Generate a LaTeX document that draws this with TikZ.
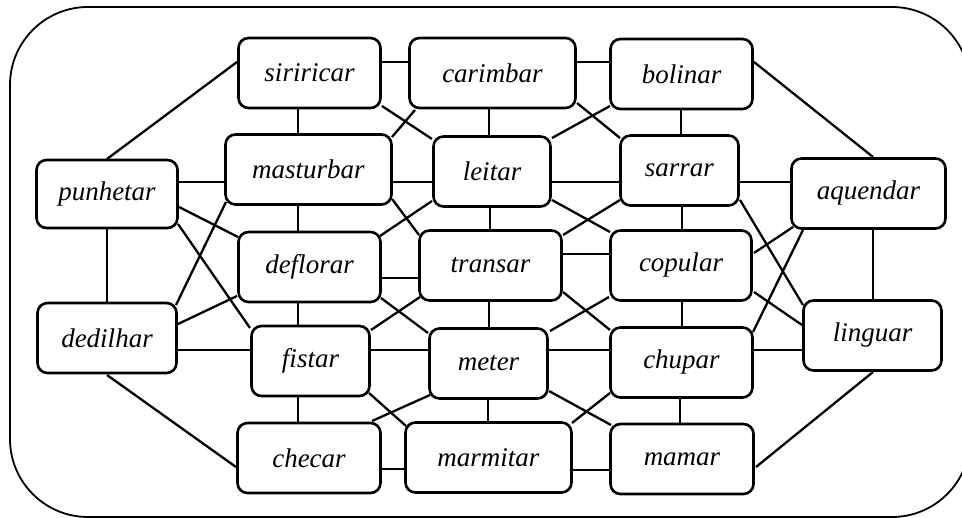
\documentclass[tikz,border=0pt]{standalone}
\usepackage{fontspec}
\setmainfont{Liberation Serif}
\usetikzlibrary{calc}
\pgfdeclarelayer{bg}
\pgfsetlayers{bg,main}
\tikzset{
  word/.style={draw, line width=2.6pt, rounded corners=10pt, fill=white,
    minimum height=70pt, inner sep=0pt, font=\fontsize{27}{31}\selectfont\itshape},
  link/.style={line width=2.3pt},
  frame/.style={line width=1.8pt, rounded corners=78pt}
}
\newcommand\conn[6]{\draw[link] ($(#1)+(#2,#3)$) -- ($(#4)+(#5,#6)$);}
\begin{document}
\begin{tikzpicture}[x=1pt,y=-1pt]
\useasboundingbox (0,0) rectangle (962,518);
\begin{scope}
\clip (0,0) rectangle (962,518);
\draw[frame] (10,7) rectangle (970,517);
\end{scope}
% nodes
\node[word, minimum width=142pt] (S1) at (309.5,73) {siriricar};
\node[word, minimum width=166pt] (C1) at (492.5,73) {carimbar};
\node[word, minimum width=142pt] (B1) at (681.5,74) {bolinar};
\node[word, minimum width=141pt, minimum height=68pt] (P) at (107,194) {punhetar};
\node[word, minimum width=166pt] (M) at (308.5,169.5) {masturbar};
\node[word, minimum width=117pt] (L) at (492,171.5) {leitar};
\node[word, minimum width=118pt] (Sa) at (679.5,170.5) {sarrar};
\node[word, minimum width=154pt] (A) at (868.5,193.5) {aquendar};
\node[word, minimum width=142pt] (D) at (309.5,267) {deflorar};
\node[word, minimum width=142pt] (T) at (490.5,265.5) {transar};
\node[word, minimum width=141pt] (Co) at (681,265.5) {copular};
\node[word, minimum width=139pt] (De) at (107,338) {dedilhar};
\node[word, minimum width=118pt] (F) at (310.5,361) {fistar};
\node[word, minimum width=118pt] (Me) at (488.5,363.5) {meter};
\node[word, minimum width=142pt] (Ch) at (681.5,362.5) {chupar};
\node[word, minimum width=138pt] (Li) at (872.5,335.5) {linguar};
\node[word, minimum width=143pt] (Ck) at (309,458) {checar};
\node[word, minimum width=166pt] (Ma) at (488.5,457.5) {marmitar};
\node[word, minimum width=143pt] (Mm) at (682,459) {mamar};
\begin{pgfonlayer}{bg}
% horizontals
\conn{S1}{60}{-11}{C1}{-70}{-11}
\conn{C1}{70}{-11}{B1}{-60}{-12}
\conn{P}{60}{-12}{M}{-70}{12.5}
\conn{M}{70}{12.5}{L}{-50}{10.5}
\conn{L}{50}{10.5}{Sa}{-50}{11.5}
\conn{Sa}{50}{11.5}{A}{-65}{-11.5}
\conn{D}{60}{11}{T}{-60}{12.5}
\conn{T}{60}{-11.5}{Co}{-60}{-11.5}
\conn{De}{60}{12}{F}{-50}{-11}
\conn{F}{50}{-11}{Me}{-50}{-13.5}
\conn{Me}{50}{-13.5}{Ch}{-60}{-12.5}
\conn{Ch}{60}{-12.5}{Li}{-60}{14.5}
\conn{Ck}{60}{11}{Ma}{-70}{11.5}
\conn{Ma}{70}{12.5}{Mm}{-60}{11}
% verticals
\conn{P}{0}{30}{De}{0}{-30}
\conn{A}{4.5}{30}{Li}{0.5}{-30}
\conn{S1}{-11.5}{30}{M}{-10.5}{-30}
\conn{M}{-10.5}{30}{D}{-11.5}{-30}
\conn{D}{-11.5}{30}{F}{-12.5}{-30}
\conn{F}{-12.5}{30}{Ck}{-11}{-30}
\conn{C1}{-3.5}{30}{L}{-3}{-30}
\conn{L}{-2}{30}{T}{-0.5}{-30}
\conn{T}{-1.5}{30}{Me}{0.5}{-30}
\conn{Me}{-0.5}{30}{Ma}{-0.5}{-30}
\conn{B1}{-0.5}{30}{Sa}{1.5}{-30}
\conn{Sa}{2.5}{30}{Co}{1}{-30}
\conn{Co}{1}{30}{Ch}{0.5}{-30}
\conn{Ch}{-1.5}{30}{Mm}{-2}{-30}
% diagonals
\conn{P}{0}{-35}{S1}{-72.5}{-11}
\conn{B1}{72.5}{-12}{A}{4.5}{-36.5}
\conn{S1}{72.5}{33}{L}{-60}{-32.5}
\conn{C1}{-77.5}{37}{M}{83.5}{-32.5}
\conn{C1}{84.5}{30}{Sa}{-59.5}{-32.5}
\conn{B1}{-71.5}{32}{L}{60}{-33.5}
\conn{P}{72}{13}{D}{-71.5}{-30}
\conn{P}{71}{30}{F}{-60.5}{-33}
\conn{M}{-82.5}{32.5}{De}{69}{-33}
\conn{M}{83.5}{29.5}{T}{-71.5}{-30.5}
\conn{L}{-60}{29.5}{D}{70.5}{-31}
\conn{L}{60}{28.5}{Co}{-71}{-33.5}
\conn{Sa}{-59.5}{29.5}{T}{72.5}{-30.5}
\conn{Sa}{60.5}{29.5}{Li}{-69.5}{-30.5}
\conn{A}{-75.5}{33.5}{Co}{73}{-12.5}
\conn{A}{-65.5}{36.5}{Ch}{71.5}{-30.5}
\conn{De}{71}{-14}{D}{-72.5}{29}
\conn{D}{71.5}{31}{Me}{-60.5}{-30.5}
\conn{T}{-70.5}{31.5}{F}{60.5}{-31}
\conn{T}{72.5}{26.5}{Ch}{-71.5}{-32.5}
\conn{Co}{-72}{31.5}{Me}{61.5}{-32.5}
\conn{Co}{73}{26.5}{Li}{-70.5}{-10.5}
\conn{F}{58.5}{32}{Ma}{-82.5}{-31.5}
\conn{Me}{-58.5}{31.5}{Ck}{63}{-37}
\conn{Me}{60.5}{27.5}{Mm}{-71}{-34}
\conn{Ch}{-71.5}{30.5}{Ma}{83.5}{-34.5}
\conn{De}{0}{37}{Ck}{-73}{9}
\conn{Li}{0.5}{36.5}{Mm}{74}{8}
\end{pgfonlayer}
\end{tikzpicture}
\end{document}
